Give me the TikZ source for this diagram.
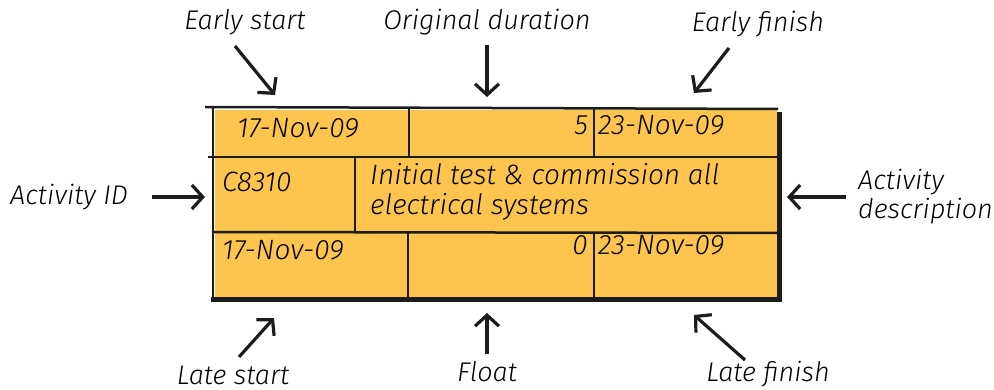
\documentclass[tikz,border=0pt]{standalone}
\usepackage{fontspec}
\setmainfont{Fira Sans}[UprightFont={* Light}, ItalicFont={* Light Italic}]
\usetikzlibrary{arrows.meta, positioning}
\definecolor{notefill}{RGB}{253,197,78}
\definecolor{inkline}{RGB}{28,28,28}
\tikzset{
  gridline/.style={line width=2.5pt, color=inkline},
  heavyline/.style={line width=5pt, color=inkline},
  celltext/.style={font=\fontsize{28}{30}\selectfont\itshape, inner sep=0pt, anchor=west},
  labeltext/.style={font=\fontsize{27}{29}\selectfont\itshape, align=center, inner sep=0pt},
  arrowstyle/.style={-{Straight Barb[length=11pt, width=24pt, line width=3.2pt]},
                     line width=3.2pt, color=inkline},
}

\begin{document}
\begin{tikzpicture}[x=1pt, y=-1pt]
  \useasboundingbox (0,0) rectangle (994,390);

  % yellow card
  \fill[notefill] (215,110) rectangle (777,298);

  % grid of the card
  \draw[gridline]  (205,107) -- (778,109);
  \draw[gridline]  (208,157) -- (778,157);
  \draw[gridline]  (212,232) -- (778,233);
  \draw[heavyline] (211,300) -- (781,300);
  \draw[gridline]  (213,108) -- (213,300);
  \draw[heavyline] (779,112) -- (779,302);
  \draw[gridline]  (409,108) -- (409,157);
  \draw[gridline]  (594,108) -- (594,157);
  \draw[gridline]  (355,157) -- (355,232);
  \draw[gridline]  (408,232) -- (408,300);
  \draw[gridline]  (594,232) -- (594,300);

  % cell entries
  \node[celltext] (estart) at (237,128) {17-Nov-09};
  \node[celltext, anchor=east] (odur) at (588,125) {5};
  \node[celltext] (efinish) at (598,125) {23-Nov-09};
  \node[celltext] (actid) at (222,182) {C8310};
  \node[celltext, anchor=north west, align=left] (actdesc) at (370,163)
    {Initial test \& commission all\\electrical systems};
  \node[celltext] (lstart) at (222,250) {17-Nov-09};
  \node[celltext, anchor=east] (float) at (588,245) {0};
  \node[celltext] (lfinish) at (598,245) {23-Nov-09};

  % labels round the card
  \node[labeltext] (esLabel) at (245,22) {Early start};
  \node[labeltext] (odLabel) at (487,22) {Original duration};
  \node[labeltext] (efLabel) at (758,24) {Early finish};
  \node[labeltext, anchor=west] (idLabel) at (10,197) {Activity ID};
  \node[labeltext, anchor=west, align=left] (descLabel) at (858,197)
    {Activity\\description};
  \node[labeltext] (lsLabel) at (233,375) {Late start};
  \node[labeltext] (flLabel) at (487,372) {Float};
  \node[labeltext] (lfLabel) at (768,374) {Late finish};

  % arrow ends
  \coordinate (esTail) at (235,46);  \coordinate (esTip) at (275,95);
  \coordinate (odTail) at (487,45);  \coordinate (odTip) at (487,97);
  \coordinate (efTail) at (729,48);  \coordinate (efTip) at (694,93);
  \coordinate (idTail) at (152,197); \coordinate (idTip) at (205,197);
  \coordinate (dsTail) at (846,197); \coordinate (dsTip) at (787,197);
  \coordinate (lsTail) at (239,357); \coordinate (lsTip) at (274,318);
  \coordinate (flTail) at (487,354); \coordinate (flTip) at (487,313);
  \coordinate (lfTail) at (745,360); \coordinate (lfTip) at (694,315);

  \draw[arrowstyle] (esTail) -- (esTip);
  \draw[arrowstyle] (odTail) -- (odTip);
  \draw[arrowstyle] (efTail) -- (efTip);
  \draw[arrowstyle] (idTail) -- (idTip);
  \draw[arrowstyle] (dsTail) -- (dsTip);
  \draw[arrowstyle] (lsTail) -- (lsTip);
  \draw[arrowstyle] (flTail) -- (flTip);
  \draw[arrowstyle] (lfTail) -- (lfTip);
\end{tikzpicture}
\end{document}
